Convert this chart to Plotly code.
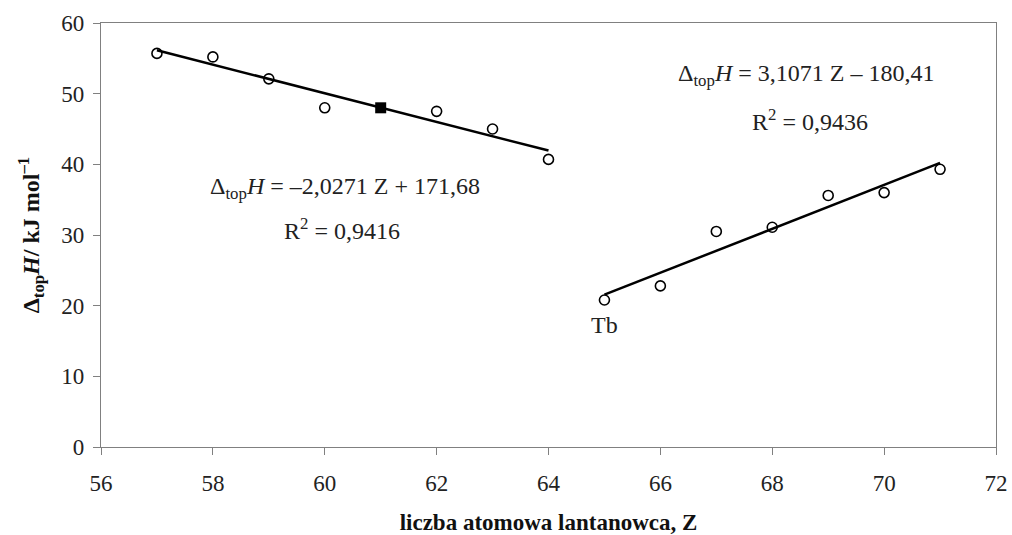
import plotly.graph_objects as go
import numpy as np

# Left group, Z and enthalpy values
z_left = [57, 58, 59, 60, 62, 63, 64]
h_left = [55.7, 55.2, 52.1, 48.0, 47.5, 45.0, 40.7]
z_square = [61]
h_square = [48.0]
# Right group
z_right = [65, 66, 67, 68, 69, 70, 71]
h_right = [20.8, 22.8, 30.5, 31.1, 35.6, 36.0, 39.3]

# Trendline coefficients (as printed on the chart)
fit_left = (-2.0271, 171.68)
fit_right = (3.1071, -180.41)
fit_left_range = [57, 64]
fit_right_range = [65, 71]

xticks = [56, 58, 60, 62, 64, 66, 68, 70, 72]
yticks = [0, 10, 20, 30, 40, 50, 60]

FONT = "Liberation Serif, Times New Roman, serif"

fig = go.Figure()

def line_pts(fit, rng):
    xs = np.array(rng, dtype=float)
    return xs, fit[0] * xs + fit[1]

for fit, rng in [(fit_left, fit_left_range), (fit_right, fit_right_range)]:
    xs, ys = line_pts(fit, rng)
    fig.add_trace(go.Scatter(x=xs, y=ys, mode="lines",
                             line=dict(color="black", width=2.5),
                             showlegend=False, hoverinfo="skip"))

marker_open = dict(symbol="circle-open", size=10, color="black",
                   line=dict(color="black", width=1.6))
fig.add_trace(go.Scatter(x=z_left, y=h_left, mode="markers",
                         marker=marker_open, showlegend=False))
fig.add_trace(go.Scatter(x=z_right, y=h_right, mode="markers",
                         marker=marker_open, showlegend=False))
fig.add_trace(go.Scatter(x=z_square, y=h_square, mode="markers",
                         marker=dict(symbol="square", size=11, color="black"),
                         showlegend=False))

ann_font = dict(family=FONT, size=24, color="#222")
annotations = [
    dict(x=60.36, y=36.6, text="Δ<sub>top</sub><i>H</i> = –2,0271 Z + 171,68"),
    dict(x=60.3, y=30.8, text="R<sup>2</sup> = 0,9416"),
    dict(x=68.6, y=52.6, text="Δ<sub>top</sub><i>H</i> = 3,1071 Z – 180,41"),
    dict(x=68.68, y=46.3, text="R<sup>2</sup> = 0,9436"),
    dict(x=65.0, y=17.3, text="Tb"),
]
for a in annotations:
    fig.add_annotation(x=a["x"], y=a["y"], text=a["text"], showarrow=False,
                       font=ann_font, xanchor="center", yanchor="middle")

axis_common = dict(showgrid=False, zeroline=False, showline=True,
                   linecolor="#808080", linewidth=1.3, mirror=True,
                   ticks="outside", ticklen=7, tickcolor="#808080", tickwidth=1.3,
                   automargin=False,
                   tickfont=dict(family=FONT, size=23, color="#222"))

fig.update_xaxes(range=[56, 72], tickvals=xticks, ticktext=[str(v) for v in xticks],
                 ticklabelstandoff=8,
                 title=dict(text="<b>liczba atomowa lantanowca, Z</b>",
                            font=dict(family=FONT, size=23, color="#111"), standoff=20),
                 **axis_common)
fig.update_yaxes(range=[0, 60], tickvals=yticks, ticktext=[str(v) for v in yticks],
                 ticklabelstandoff=4,
                 title=dict(text="<b>Δ<sub>top</sub><i>H</i>/ kJ mol<sup>–1</sup></b>",
                            font=dict(family=FONT, size=24, color="#111"), standoff=14),
                 **axis_common)

fig.update_layout(width=1012, height=535, plot_bgcolor="white", paper_bgcolor="white",
                  margin=dict(l=101, r=16, t=23, b=88))

fig.write_html("out.html")
